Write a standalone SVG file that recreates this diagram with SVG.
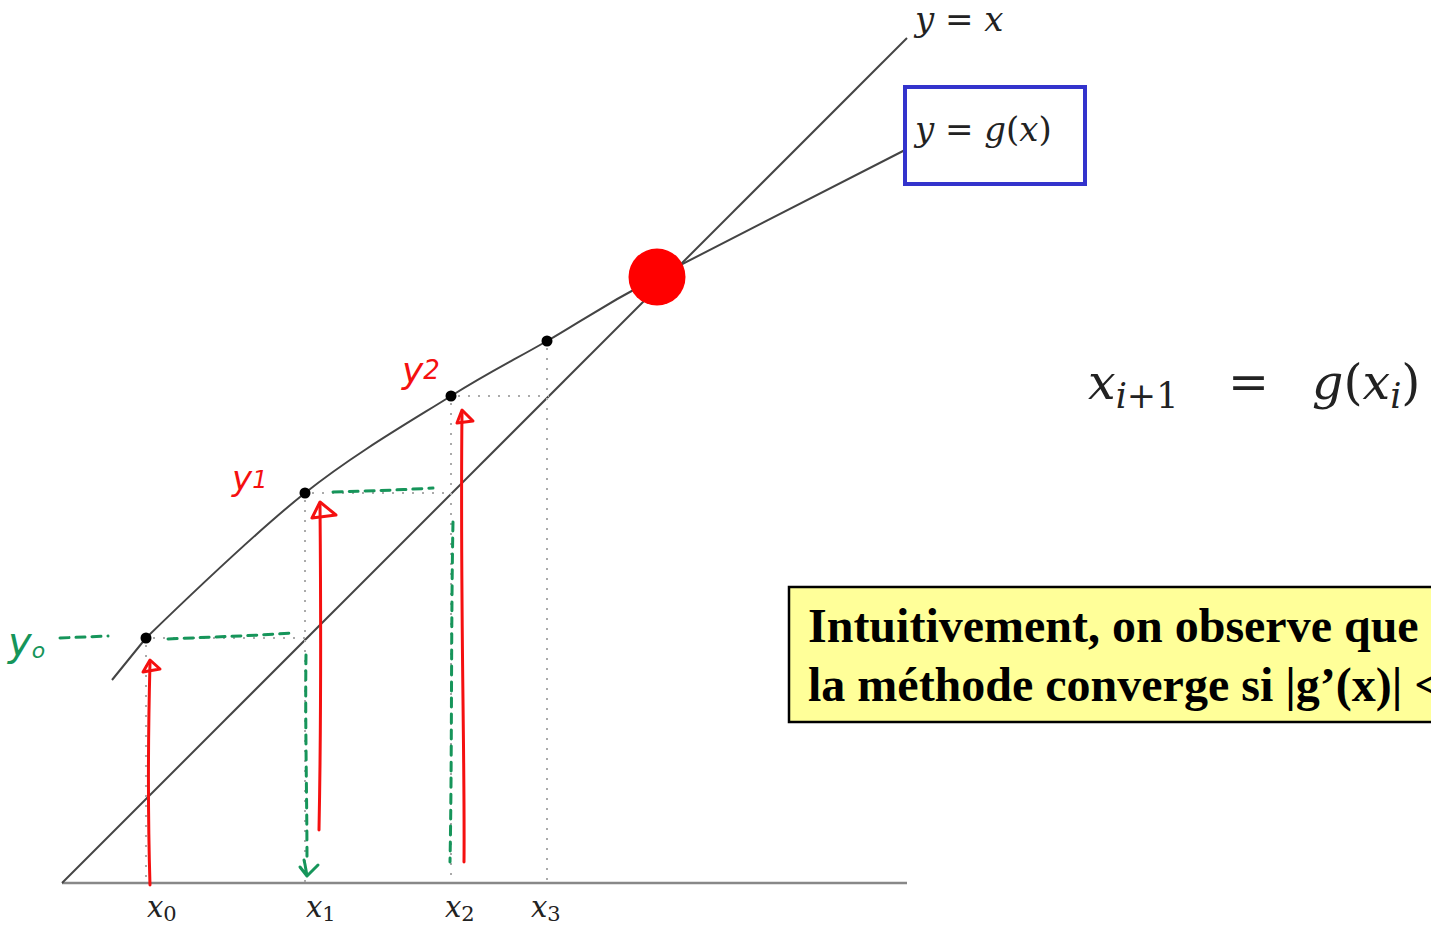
<svg xmlns="http://www.w3.org/2000/svg" width="1431" height="927" viewBox="0 0 1431 927">
<style>
.curve{fill:none;stroke:#444;stroke-width:2}
.axis{fill:none;stroke:#888;stroke-width:2.5}
.dot{fill:none;stroke:#aaa;stroke-width:2;stroke-dasharray:2 8}
.math{font-family:"DejaVu Serif","Liberation Serif",serif;font-style:italic;fill:#222}
.num{font-family:"DejaVu Serif","Liberation Serif",serif;font-style:normal;fill:#222}
.red{fill:none;stroke:#f51010;stroke-width:3;stroke-linecap:round;stroke-linejoin:round}
.grn{fill:none;stroke:#16955a;stroke-width:3;stroke-linecap:round;stroke-dasharray:9 7}
.grnsolid{fill:none;stroke:#16955a;stroke-width:3;stroke-linecap:round;stroke-linejoin:round}
.hand{font-family:"DejaVu Sans",sans-serif;font-style:italic}
.box{font-family:"Liberation Serif","Times New Roman",serif;font-weight:bold;font-size:48px;fill:#000}
</style>
<rect width="1431" height="927" fill="#fff"/>
<g id="axes">
<line class="axis" x1="62" y1="883" x2="907" y2="883"/>
<line class="curve" x1="62" y1="883" x2="907" y2="38"/>
<path class="curve" d="M112,680 L146,638 C178.2,606.8 254.2,533.3 305,493 C355.8,452.7 410.7,421.3 451,396 C491.3,370.7 512.7,360.8 547,341 C581.3,321.2 597.3,308.8 657,277 L905,150"/>
</g>
<g id="guides">
<line class="dot" x1="146" y1="645" x2="146" y2="883"/>
<line class="dot" x1="305" y1="500" x2="305" y2="883"/>
<line class="dot" x1="451" y1="403" x2="451" y2="883"/>
<line class="dot" x1="547" y1="348" x2="547" y2="883"/>
<line class="dot" x1="153" y1="638" x2="307" y2="638"/>
<line class="dot" x1="312" y1="493" x2="452" y2="493"/>
<line class="dot" x1="458" y1="396" x2="549" y2="396"/>
</g>
<g id="points">
<circle cx="146" cy="638" r="5.5" fill="#000"/>
<circle cx="305" cy="493" r="5.5" fill="#000"/>
<circle cx="451" cy="396" r="5.5" fill="#000"/>
<circle cx="547" cy="341" r="5.5" fill="#000"/>
<circle id="fixedpoint" cx="657" cy="277" r="28.5" fill="#ff0000"/>
</g>
<g id="labels">
<text class="math" x="915" y="31" font-size="34">y <tspan class="num">=</tspan> x</text>
<g id="gbox">
<rect x="905" y="87" width="180" height="97" fill="none" stroke="#3333cc" stroke-width="4"/>
<text class="math" x="915" y="141" font-size="34">y <tspan class="num">=</tspan> g<tspan class="num">(</tspan>x<tspan class="num">)</tspan></text>
</g>
<text class="math" x="147" y="917" font-size="29">x<tspan class="num" font-size="21" dy="4">0</tspan></text>
<text class="math" x="306" y="917" font-size="29">x<tspan class="num" font-size="21" dy="4">1</tspan></text>
<text class="math" x="445" y="917" font-size="29">x<tspan class="num" font-size="21" dy="4">2</tspan></text>
<text class="math" x="531" y="917" font-size="29">x<tspan class="num" font-size="21" dy="4">3</tspan></text>
<text class="math" x="1088" y="399" font-size="49">x<tspan font-size="35" dy="9">i</tspan><tspan class="num" font-size="35">+1</tspan></text>
<text class="num" x="1228" y="399" font-size="49">=</text>
<text class="math" x="1312" y="399" font-size="49">g<tspan class="num">(</tspan>x<tspan font-size="35" dy="9">i</tspan><tspan class="num" dy="-9">)</tspan></text>
</g>
<g id="note">
<rect x="789" y="587" width="660" height="135" fill="#ffff99" stroke="#000" stroke-width="2.5"/>
<text class="box" x="808" y="642">Intuitivement, on observe que</text>
<text class="box" x="808" y="701">la méthode converge si |g’(x)| &lt;</text>
</g>
<g id="annotations">
<text class="hand" x="402" y="383" font-size="36" fill="#f51010">y<tspan font-size="26" dy="-4">2</tspan></text>
<text class="hand" x="232" y="490" font-size="34" fill="#f51010">y<tspan font-size="24" dy="-2">1</tspan></text>
<text class="hand" x="8" y="656" font-size="40" fill="#16955a">y<tspan font-size="22" dy="2">o</tspan></text>
</g>
<g id="connectors">
<path class="red" d="M150,885 C148,820 148,740 150,663"/>
<path class="red" d="M150,660 L143,672 L160,669 Z"/>
<path class="red" d="M319,830 C321,730 321,620 320,505"/>
<path class="red" d="M320,502 L312,518 L336,515 Z"/>
<path class="red" d="M464,862 C465,760 460,600 462,412"/>
<path class="red" d="M462,410 L457,423 L473,421 Z"/>
<path class="grn" d="M60,638 L108,636"/>
<path class="grn" d="M168,639 C210,637 250,636 292,633"/>
<path class="grn" d="M306,655 C305,720 307,800 307,862"/>
<path class="grnsolid" d="M304,860 C306,868 306,872 307,875 M300,867 L307,876 L318,865"/>
<path class="grn" d="M333,492 C370,491 400,490 433,488"/>
<path class="grn" d="M453,522 C451,620 452,760 450,862"/>
</g>
</svg>
